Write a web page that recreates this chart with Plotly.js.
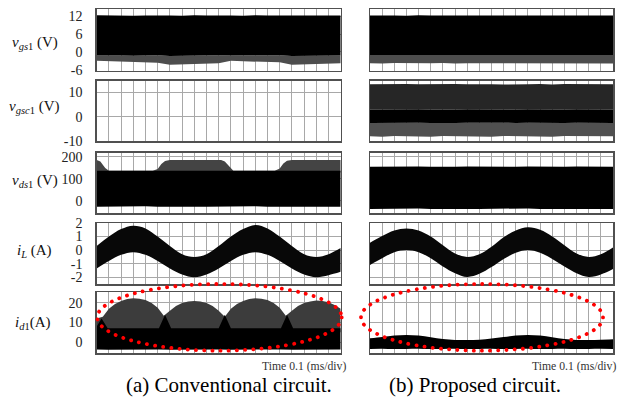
<!DOCTYPE html>
<html><head><meta charset="utf-8">
<script src="https://cdn.plot.ly/plotly-3.0.1.min.js"></script>
<style>
html,body{margin:0;padding:0;background:#fff;}
#chart{width:618px;height:399px;}
.shapelayer path{stroke-linecap:round;}
</style></head><body><div id="chart"></div>
<script>
// ---- time bases (ms), 20 divisions of 0.1 ms ----
const t21 = [0,0.1,0.2,0.3,0.4,0.5,0.6,0.7,0.8,0.9,1.0,1.1,1.2,1.3,1.4,1.5,1.6,1.7,1.8,1.9,2.0];
const t41 = [0,0.05,0.1,0.15,0.2,0.25,0.3,0.35,0.4,0.45,0.5,0.55,0.6,0.65,0.7,0.75,0.8,0.85,0.9,0.95,1.0,
             1.05,1.1,1.15,1.2,1.25,1.3,1.35,1.4,1.45,1.5,1.55,1.6,1.65,1.7,1.75,1.8,1.85,1.9,1.95,2.0];

// ---- row labels and tick labels ----
const rowLabels = ["<i>v</i><sub><i>gs</i>1</sub> (V)", "<i>v</i><sub><i>gsc</i>1</sub> (V)",
                   "<i>v</i><sub><i>ds</i>1</sub> (V)", "<i>i</i><sub><i>L</i></sub> (A)", "<i>i</i><sub><i>d</i>1</sub>(A)"];
const tickVals = [[-6,0,6,12],[-10,0,10],[0,100,200],[-2,-1,0,1,2],[0,10,20]];
const tickText = [["-6","0","6","12"],["-10","0","10"],["0","100","200"],["-2","-1","0","1","2"],["0","10","20"]];
const yRanges = [[-6.3,14.3],[-10.1,14.9],[-56,219.5],[-2.5,2.0],[-5.6,25.6]];
const captions = ["(a) Conventional circuit.", "(b) Proposed circuit."];
const timeLabel = "Time 0.1 (ms/div)";

// ---- (a) conventional: v_gs1 envelope ----
const vgs1ConvTop  = [12.3,12.2,12.3,12.1,12.2,12.3,12.2,12.1,12.3,12.2,12.3,12.2,12.1,12.3,12.2,12.2,12.3,12.1,12.2,12.3,12.2];
const vgs1ConvMid  = [-1.2,-1.1,-1.2,-1.3,-1.2,-1.1,-1.4,-1.3,-1.2,-1.2,-1.1,-1.2,-1.2,-1.3,-1.2,-1.1,-1.4,-1.3,-1.2,-1.2,-1.2];
const vgs1ConvLow  = [-3.0,-3.1,-3.2,-3.3,-3.4,-3.6,-4.3,-4.2,-4.1,-4.0,-3.8,-3.0,-3.1,-3.2,-3.3,-3.5,-4.3,-4.2,-4.1,-4.0,-3.8];
// ---- (b) proposed: v_gs1 envelope ----
const vgs1PropTop  = [12.2,12.3,12.2,12.1,12.3,12.2,12.2,12.3,12.1,12.2,12.3,12.2,12.2,12.1,12.3,12.2,12.2,12.3,12.2,12.1,12.2];
const vgs1PropMid  = [-1.0,-1.1,-1.0,-1.0,-1.1,-1.0,-1.0,-1.1,-1.0,-1.0,-1.1,-1.0,-1.0,-1.1,-1.0,-1.0,-1.1,-1.0,-1.0,-1.1,-1.0];
const vgs1PropLow  = [-3.8,-3.9,-3.7,-3.8,-3.9,-3.8,-3.7,-3.9,-3.8,-3.8,-3.9,-3.7,-3.8,-3.9,-3.8,-3.7,-3.8,-3.9,-3.8,-3.8,-3.9];
// ---- (b) proposed: v_gsc1 envelope ----
const vgsc1PropTop = [13.4,13.5,13.3,13.5,13.4,13.5,13.3,13.5,13.4,13.5,13.4,13.3,13.5,13.4,13.5,13.3,13.5,13.4,13.5,13.4,13.4];
const vgsc1PropHi  = [3.0,3.1,2.9,3.0,3.1,3.0,2.9,3.0,3.1,3.0,3.0,2.9,3.0,3.1,3.0,2.9,3.0,3.1,3.0,3.0,3.0];
const vgsc1PropLo  = [-2.5,-2.4,-2.6,-2.5,-2.4,-2.5,-2.6,-2.5,-2.4,-2.5,-2.5,-2.6,-2.5,-2.4,-2.5,-2.6,-2.5,-2.4,-2.5,-2.5,-2.5];
const vgsc1PropBot = [-8.0,-8.2,-7.9,-8.1,-8.0,-8.2,-7.9,-8.0,-8.1,-8.0,-8.2,-7.9,-8.0,-8.1,-8.0,-8.2,-7.9,-8.0,-8.1,-8.0,-8.0];
// ---- (a) conventional: v_ds1 ----
const tBump        = [0,0.03,0.07,0.1,0.46,0.5,0.53,0.56,0.6,1.02,1.05,1.08,1.12,1.46,1.5,1.53,1.56,1.6,2.0];
const vds1BumpTop  = [186,180,150,137,137,145,168,182,186,186,180,160,137,137,148,170,183,186,186];
const vds1BumpBase = [130,130,130,130,130,130,130,130,130,130,130,130,130,130,130,130,130,130,130];
const vds1ConvHi   = [137.7,137.7,137.7,137.7,137.7,137.7,137.7,137.7,137.7,137.7,137.7,137.7,137.7,137.7,137.7,137.7,137.7,137.7,137.7,137.7,137.7];
const vds1ConvLo   = [-26,-25,-27,-26,-24,-26,-27,-25,-26,-26,-25,-27,-26,-24,-26,-27,-25,-26,-26,-25,-26];
// ---- (b) proposed: v_ds1 ----
const vds1PropHi   = [156,157,155,156,157,156,155,156,157,156,156,155,156,157,156,155,156,157,156,156,156];
const vds1PropLo   = [-36,-35,-37,-36,-34,-36,-37,-35,-36,-36,-35,-37,-36,-34,-36,-37,-35,-36,-36,-35,-36];
// ---- i_L envelopes ----
const iLConvHi = [0.3,1.0,1.55,1.8,1.6,1.0,0.3,-0.3,-0.5,-0.3,0.3,1.0,1.55,1.85,1.6,1.0,0.3,-0.3,-0.5,-0.3,0.15];
const iLConvLo = [-1.35,-0.8,-0.35,-0.15,-0.35,-0.8,-1.35,-1.8,-2.0,-1.8,-1.35,-0.8,-0.35,-0.15,-0.35,-0.8,-1.35,-1.8,-2.0,-1.85,-1.6];
const iLPropHi = [0.55,1.05,1.45,1.6,1.45,1.0,0.35,-0.25,-0.5,-0.3,0.25,0.95,1.45,1.68,1.5,1.0,0.35,-0.25,-0.5,-0.3,0.2];
const iLPropLo = [-1.1,-0.6,-0.15,0.0,-0.15,-0.6,-1.2,-1.7,-1.98,-1.75,-1.25,-0.65,-0.2,0.0,-0.2,-0.65,-1.2,-1.7,-1.98,-1.8,-1.4];
// ---- (a) conventional: i_d1 ----
const id1HumpTop  = [12,13,17,19.5,21,22,22.4,22.2,21.5,20,17.5,13.5,16,18.5,20,20.8,21,20.8,20,18.5,16,
                     13,17,19.5,21,22,22.4,22.2,21.5,20,17.5,13.5,16,18.5,20,20.8,21.2,21,20.3,19,17];
const id1HumpBase = [5,5,5,5,5,5,5,5,5,5,5,5,5,5,5,5,5,5,5,5,5,5,5,5,5,5,5,5,5,5,5,5,5,5,5,5,5,5,5,5,5];
const tSpike      = [0,0.04,0.09,0.51,0.56,0.61,1.0,1.05,1.1,1.51,1.56,1.61,2.0];
const id1ConvHi   = [8,12,7,7,14,7,7,14,7,7,14,7,7];
const id1ConvLo   = [-3.8,-3.7,-3.9,-3.8,-3.7,-3.9,-3.8,-3.7,-3.9,-3.8,-3.7,-3.9,-3.8];
// ---- (b) proposed: i_d1 ----
const id1PropHi = [1.9,2.6,3.3,3.6,3.3,2.5,1.6,1.1,1.0,1.2,1.8,2.6,3.3,3.6,3.3,2.5,1.6,1.1,1.0,1.2,1.4];
const id1PropLo = [-3.5,-3.4,-3.6,-3.5,-3.4,-3.6,-3.5,-3.4,-3.6,-3.5,-3.4,-3.6,-3.5,-3.4,-3.6,-3.5,-3.4,-3.6,-3.5,-3.4,-3.5];

// ---- layout geometry (pixels) ----
const W = 618, H = 399;
const colX = [[96.7,340.7],[370,613]];
const rowY = [[9.3,70.7],[80.7,141.3],[152.7,213.3],[223,284],[292,353]];
const px = v => v / W, py = v => 1 - v / H;
const FONT = 'Liberation Serif';

const traces = [];
function axSuffix(p){ return p === 0 ? '' : String(p + 1); }
function band(row, col, t, lo, hi, color, shape){
  const p = row * 2 + col, s = axSuffix(p);
  const base = {x: t, xaxis: 'x' + s, yaxis: 'y' + s, mode: 'lines', hoverinfo: 'skip',
                line: {width: 0, color: color, shape: shape || 'linear'}};
  traces.push(Object.assign({}, base, {y: lo}));
  traces.push(Object.assign({}, base, {y: hi, fill: 'tonexty', fillcolor: color}));
}
const BLK = '#000000', GRY = '#4d4d4d', DGRY = '#262626';
// row 1
band(0,0,t21,vgs1ConvLow,vgs1ConvMid,GRY);
band(0,0,t21,vgs1ConvMid,vgs1ConvTop,BLK);
band(0,1,t21,vgs1PropLow,vgs1PropMid,GRY);
band(0,1,t21,vgs1PropMid,vgs1PropTop,BLK);
// row 2 (conventional has no v_gsc1: empty trace keeps the subplot)
traces.push({x: [], y: [], xaxis: 'x3', yaxis: 'y3', mode: 'lines', hoverinfo: 'skip'});
band(1,1,t21,vgsc1PropHi,vgsc1PropTop,DGRY);
band(1,1,t21,vgsc1PropBot,vgsc1PropLo,'#505050');
band(1,1,t21,vgsc1PropLo,vgsc1PropHi,BLK);
// row 3
band(2,0,tBump,vds1BumpBase,vds1BumpTop,'#444444');
band(2,0,t21,vds1ConvLo,vds1ConvHi,BLK);
band(2,1,t21,vds1PropLo,vds1PropHi,BLK);
// row 4
band(3,0,t21,iLConvLo,iLConvHi,'#080808','spline');
band(3,1,t21,iLPropLo,iLPropHi,'#080808','spline');
// row 5
band(4,0,t41,id1HumpBase,id1HumpTop,'#3c3c3c');
band(4,0,tSpike,id1ConvLo,id1ConvHi,BLK);
band(4,1,t21,id1PropLo,id1PropHi,BLK,'spline');

const layout = {
  width: W, height: H, margin: {l:0,r:0,t:0,b:0},
  paper_bgcolor: '#ffffff', plot_bgcolor: '#ffffff', showlegend: false,
  font: {family: FONT, color: '#111', size: 13},
  annotations: [], shapes: []
};
for (let row = 0; row < 5; row++) {
  for (let col = 0; col < 2; col++) {
    const p = row * 2 + col, s = axSuffix(p);
    layout['xaxis' + s] = {
      domain: [px(colX[col][0]), px(colX[col][1])], range: [0, 2], anchor: 'y' + s,
      dtick: 0.1, tick0: 0, showticklabels: false, ticks: '', showgrid: true,
      gridcolor: '#a8a8a8', gridwidth: 1, zeroline: false,
      showline: true, mirror: true, linecolor: '#505050', linewidth: 1.5, fixedrange: true
    };
    layout['yaxis' + s] = {
      domain: [py(rowY[row][1]), py(rowY[row][0])], range: yRanges[row], anchor: 'x' + s,
      tickmode: 'array', tickvals: tickVals[row], ticktext: tickText[row],
      showticklabels: col === 0, ticks: col === 0 ? 'outside' : '', ticklen: 10,
      tickcolor: 'rgba(0,0,0,0)', tickfont: {family: FONT, size: 14, color: '#222'},
      showgrid: true, gridcolor: '#a8a8a8', gridwidth: 1, zeroline: false,
      showline: true, mirror: true, linecolor: '#505050', linewidth: 1.5, fixedrange: true
    };
  }
}
// row labels
const labelPos = [[10,43],[7,107],[10,181],[15,251],[13,323]];
rowLabels.forEach((txt, i) => {
  layout.annotations.push({text: txt, xref: 'paper', yref: 'paper', x: px(labelPos[i][0]), y: py(labelPos[i][1]),
    xanchor: 'left', yanchor: 'middle', showarrow: false, font: {family: FONT, size: 15, color: '#111'}});
});
// time labels and captions
[348, 618].forEach(xr => layout.annotations.push({text: timeLabel, xref:'paper', yref:'paper', x: px(xr), y: py(366),
  xanchor: 'right', yanchor: 'middle', showarrow: false, font: {family: FONT, size: 11.7, color: '#333'}}));
[[124, captions[0]], [387, captions[1]]].forEach(([xl, txt]) => layout.annotations.push({text: txt, xref:'paper', yref:'paper',
  x: px(xl), y: py(385), xanchor: 'left', yanchor: 'middle', showarrow: false, font: {family: FONT, size: 21, color: '#000'}}));
// red dotted ellipses
[[97.3, 341.7], [361, 603]].forEach(([a, b]) => layout.shapes.push({type: 'circle', xref: 'paper', yref: 'paper',
  x0: px(a), x1: px(b), y0: py(350.7), y1: py(284), line: {color: '#ff0000', width: 3.8, dash: '0.1px,8.1px'}, layer: 'above'}));

Plotly.newPlot('chart', traces, layout, {staticPlot: true, displayModeBar: false});
</script></body></html>
